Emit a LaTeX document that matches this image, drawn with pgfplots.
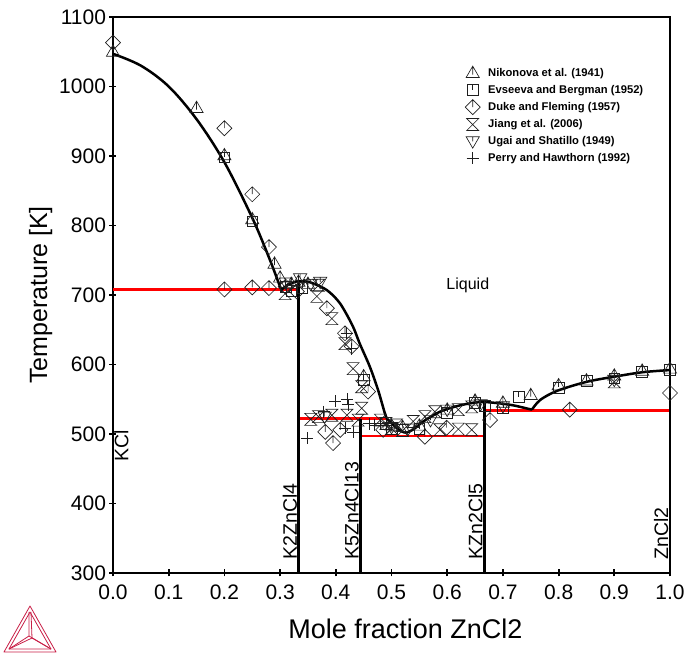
\documentclass[border=0pt]{standalone}
\usepackage{fontspec}
\setmainfont{Liberation Sans}
\usepackage{pgfplots}
\pgfplotsset{compat=1.18}
\definecolor{tclogo}{RGB}{200,30,70}
\definecolor{mk}{RGB}{30,30,30}

\pgfdeclareplotmark{tctri}{%
 \pgfpathmoveto{\pgfqpoint{0pt}{1.15\pgfplotmarksize}}%
 \pgfpathlineto{\pgfqpoint{-1.1\pgfplotmarksize}{-0.75\pgfplotmarksize}}%
 \pgfpathlineto{\pgfqpoint{1.1\pgfplotmarksize}{-0.75\pgfplotmarksize}}%
 \pgfpathclose
 \pgfpathmoveto{\pgfqpoint{0pt}{1.15\pgfplotmarksize}}%
 \pgfpathlineto{\pgfqpoint{0pt}{-0.25\pgfplotmarksize}}%
 \pgfusepathqstroke}
\pgfdeclareplotmark{tcsq}{%
 \pgfpathrectanglecorners{\pgfqpoint{-0.9\pgfplotmarksize}{-0.9\pgfplotmarksize}}{\pgfqpoint{0.9\pgfplotmarksize}{0.9\pgfplotmarksize}}%
 \pgfpathmoveto{\pgfqpoint{0pt}{0.9\pgfplotmarksize}}%
 \pgfpathlineto{\pgfqpoint{0pt}{0pt}}%
 \pgfusepathqstroke}
\pgfdeclareplotmark{tcdia}{%
 \pgfpathmoveto{\pgfqpoint{0pt}{1.25\pgfplotmarksize}}%
 \pgfpathlineto{\pgfqpoint{1.25\pgfplotmarksize}{0pt}}%
 \pgfpathlineto{\pgfqpoint{0pt}{-1.25\pgfplotmarksize}}%
 \pgfpathlineto{\pgfqpoint{-1.25\pgfplotmarksize}{0pt}}%
 \pgfpathclose
 \pgfpathmoveto{\pgfqpoint{0pt}{1.25\pgfplotmarksize}}%
 \pgfpathlineto{\pgfqpoint{0pt}{0pt}}%
 \pgfusepathqstroke}
\pgfdeclareplotmark{tchg}{%
 \pgfpathmoveto{\pgfqpoint{-\pgfplotmarksize}{\pgfplotmarksize}}%
 \pgfpathlineto{\pgfqpoint{\pgfplotmarksize}{\pgfplotmarksize}}%
 \pgfpathlineto{\pgfqpoint{-\pgfplotmarksize}{-\pgfplotmarksize}}%
 \pgfpathlineto{\pgfqpoint{\pgfplotmarksize}{-\pgfplotmarksize}}%
 \pgfpathclose
 \pgfusepathqstroke}
\pgfdeclareplotmark{tcinv}{%
 \pgfpathmoveto{\pgfqpoint{0pt}{-1.15\pgfplotmarksize}}%
 \pgfpathlineto{\pgfqpoint{-1.1\pgfplotmarksize}{0.75\pgfplotmarksize}}%
 \pgfpathlineto{\pgfqpoint{1.1\pgfplotmarksize}{0.75\pgfplotmarksize}}%
 \pgfpathclose
 \pgfpathmoveto{\pgfqpoint{0pt}{0.75\pgfplotmarksize}}%
 \pgfpathlineto{\pgfqpoint{0pt}{0pt}}%
 \pgfusepathqstroke}

\begin{document}
\begin{tikzpicture}
\begin{axis}[name=ax, at={(0,0)}, anchor=south west,
 scale only axis, width=557pt, height=556pt,
 xmin=0, xmax=1, ymin=300, ymax=1100,
 xtick={0,0.1,0.2,0.3,0.4,0.5,0.6,0.7,0.8,0.9,1.0},
 ytick={300,400,500,600,700,800,900,1000,1100},
 /pgf/number format/1000 sep={},
 /pgf/number format/assume math mode=true,
 xticklabel style={/pgf/number format/.cd, fixed, fixed zerofill, precision=1, /tikz/.cd, yshift=-5pt},
 tick label style={font=\fontsize{21}{24}\selectfont},
 xlabel style={font=\fontsize{27}{30}\selectfont, yshift=-12pt, xshift=14pt},
 ylabel style={font=\fontsize{25}{30}\selectfont},
 xlabel={Mole fraction ZnCl2}, ylabel={Temperature [K]},
 tick align=center, tick pos=left, major tick length=7pt,
 axis line style={line width=2.4pt},
 every tick/.style={black, line width=1.8pt},
 clip=false,
 mark size=6pt,
 legend style={at={(rel axis cs:0.632,0.912)}, anchor=north west, draw=none, fill=none,
   font=\bfseries\fontsize{11.2}{12.5}\selectfont, row sep=3.1pt, column sep=6pt, inner sep=0pt},
 legend cell align=left,
]
% Nikonova
\addplot[only marks, mark=tctri, mk, line width=0.65pt] coordinates {
(0,1050) (0.15,969) (0.2,901) (0.25,809) (0.29,745) (0.30,725) (0.32,716) (0.333,719) (0.35,716)
(0.45,583) (0.50,512) (0.52,510) (0.55,512) (0.60,535) (0.65,548) (0.70,545) (0.75,556)
(0.80,570) (0.85,577) (0.90,584) (0.95,591) (1.0,594)};
\addlegendentry{Nikonova et al. (1941)}
% Evseeva
\addplot[only marks, mark=tcsq, mk, line width=0.65pt] coordinates {
(0.2,898) (0.25,806) (0.31,712) (0.32,706) (0.34,710) (0.45,578) (0.50,507) (0.55,507)
(0.60,531) (0.65,545) (0.667,540) (0.70,537) (0.728,553) (0.80,567) (0.85,576) (0.90,580)
(0.95,589) (1.0,592)};
\addlegendentry{Evseeva and Bergman (1952)}
% Duke
\addplot[only marks, mark=tcdia, mk, line width=0.65pt] coordinates {
(0,1063) (0.2,940) (0.25,845) (0.28,769) (0.2,708) (0.25,711) (0.28,710) (0.31,712) (0.33,705)
(0.384,681) (0.4165,645) (0.4285,626) (0.458,561) (0.395,487) (0.381,503) (0.408,506)
(0.485,506) (0.56,496) (0.599,509) (0.677,520) (0.82,535) (1.0,559)};
\addlegendentry{Duke and Fleming (1957)}
% Jiang
\addplot[only marks, mark=tchg, mk, line width=0.65pt] coordinates {
(0.309,702) (0.369,714) (0.366,698) (0.393,666) (0.4165,630) (0.431,594) (0.4465,568) (0.4465,537)
(0.355,521) (0.369,525) (0.393,527) (0.42,527) (0.44,520) (0.48,520) (0.49,515) (0.5,508) (0.52,505)
(0.509,513) (0.539,518) (0.56,525) (0.587,506) (0.62,507) (0.644,506) (0.578,532) (0.62,535)
(0.644,539) (0.90,575)};
\addlegendentry{Jiang et al. (2006)}
% Ugai
\addplot[only marks, mark=tcinv, mk, line width=0.65pt] coordinates {
(0.31,718) (0.336,724) (0.355,716) (0.372,719) (0.38,525) (0.5,510) (0.53,508) (0.57,520)
(0.6,535) (0.66,543) (0.7,540) (0.9,578)};
\addlegendentry{Ugai and Shatillo (1949)}
% Perry
\addplot[only marks, mark=+, mk, line width=0.65pt] coordinates {
(0.4195,645) (0.4285,623) (0.399,547) (0.42,550) (0.4225,542) (0.378,532) (0.4165,508) (0.431,503)
(0.348,494) (0.46,515) (0.47,513) (0.48,515) (0.49,512)};
\addlegendentry{Perry and Hawthorn (1992)}

% red invariant lines
\addplot[red, line width=2.6pt, forget plot] coordinates {(0,708) (0.333,708)};
\addplot[red, line width=2.6pt, forget plot] coordinates {(0.333,522) (0.492,522)};
\addplot[red, line width=2.6pt, forget plot] coordinates {(0.444,497) (0.667,497)};
\addplot[red, line width=2.6pt, forget plot] coordinates {(0.667,534) (1.0,534)};
% compound lines
\addplot[black, line width=2.5pt, forget plot] coordinates {(0.3333,300) (0.3333,720)};
\addplot[black, line width=2.5pt, forget plot] coordinates {(0.4444,300) (0.4444,522)};
\addplot[black, line width=2.5pt, forget plot] coordinates {(0.6667,300) (0.6667,546)};
% liquidus
\addplot[black, line width=2.5pt, smooth, tension=0.55, forget plot] coordinates {
(0,1047) (0.05,1030) (0.1,1000) (0.15,953) (0.2,891) (0.25,811) (0.28,754) (0.30,712) (0.303,708)};
\addplot[black, line width=2.5pt, smooth, tension=0.5, forget plot] coordinates {
(0.303,708) (0.315,715) (0.333,720) (0.355,718) (0.384,707) (0.4075,688) (0.43,656) (0.443,630)
(0.461,597) (0.476,563) (0.488,530) (0.492,522)};
\addplot[black, line width=2.5pt, smooth, tension=0.5, forget plot] coordinates {
(0.492,522) (0.51,508) (0.525,502) (0.54,507) (0.557,518) (0.587,532) (0.617,540) (0.647,545)
(0.667,546) (0.695,544) (0.72,541) (0.752,535)};
\addplot[black, line width=2.5pt, smooth, tension=0.5, forget plot] coordinates {
(0.752,535) (0.767,549) (0.797,562) (0.85,575) (0.904,583) (0.952,589) (1.0,592)};

% frame
\draw[line width=2.4pt, line cap=rect] (rel axis cs:0,1) -- (rel axis cs:1,1) -- (rel axis cs:1,0);

% labels
\node[font=\fontsize{16}{18}\selectfont] at (axis cs:0.637,714) {Liquid};
\node[rotate=90, anchor=north west, font=\fontsize{19.5}{22}\selectfont, inner sep=1pt] at (axis cs:0,458) {KCl};
\node[rotate=90, anchor=south west, font=\fontsize{19.5}{22}\selectfont, inner sep=1.5pt] at (axis cs:0.3333,317) {K2ZnCl4};
\node[rotate=90, anchor=south west, font=\fontsize{19.5}{22}\selectfont, inner sep=1.5pt] at (axis cs:0.4444,317) {K5Zn4Cl13};
\node[rotate=90, anchor=south west, font=\fontsize{19.5}{22}\selectfont, inner sep=1.5pt] at (axis cs:0.6667,317) {KZn2Cl5};
\node[rotate=90, anchor=south west, font=\fontsize{19.5}{22}\selectfont, inner sep=1.5pt] at (axis cs:1.0,317) {ZnCl2};
\end{axis}
% logo (decoration), pixel coordinates of the reference
\begin{scope}[shift={(ax.north west)}, shift={(-113pt,17pt)}, x=1pt, y=-1pt, tclogo, line width=0.8pt, line join=round]
\draw (30,606) -- (4,652) -- (56,652) -- cycle;
\draw (30,612) -- (9,649) -- (51,649) -- cycle;
\draw (29,612) -- (29,636) -- (9,649);
\draw (31,612) -- (32,638) -- (51,649);
\draw (29,636) -- (51,649);
\draw (32,638) -- (9,649);
\end{scope}
\pgfresetboundingbox
\path[use as bounding box] ([shift={(-113pt,-81pt)}]ax.south west) rectangle ([shift={(18pt,17pt)}]ax.north east);
\end{tikzpicture}
\end{document}
